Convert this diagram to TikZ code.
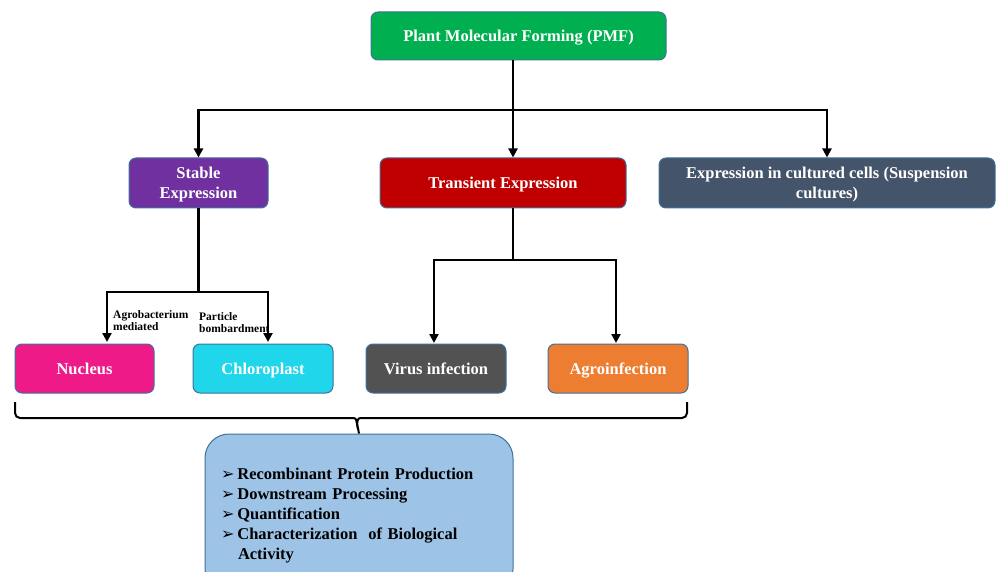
\documentclass[tikz,border=0pt]{standalone}
\usepackage{fontspec}
\setmainfont{Liberation Serif}
\newfontfamily\dejavu{DejaVu Sans}
\usetikzlibrary{arrows.meta}
\definecolor{bord}{HTML}{41719C}
\definecolor{cpmf}{HTML}{00B050}
\definecolor{cstable}{HTML}{7030A0}
\definecolor{ctrans}{HTML}{C00000}
\definecolor{ccult}{HTML}{44546A}
\definecolor{cnuc}{HTML}{EE1A88}
\definecolor{cchl}{HTML}{20D6EA}
\definecolor{cvir}{HTML}{525252}
\definecolor{cagro}{HTML}{ED7D31}
\definecolor{cbot}{HTML}{9DC3E6}
\newcommand{\blt}{{\dejavu\fontsize{16}{20}\selectfont ➢}\hspace{3pt}}
\tikzset{
  box/.style={draw=bord, line width=1pt, rounded corners=7pt, text=white,
    font=\bfseries\fontsize{16.5}{19.5}\selectfont, align=center, inner sep=2pt,
    text height=11pt, text depth=0pt},
  twoline/.style={text height=30.5pt, text depth=0pt},
  conn/.style={line width=2.4pt, black},
  arr/.style={conn, -{Triangle[length=9pt,width=9pt]}},
  lab/.style={font=\bfseries\fontsize{11.5}{12.5}\selectfont, align=left, inner sep=0pt, anchor=north west},
}
\begin{document}
\begin{tikzpicture}[x=1pt,y=-1pt]
\useasboundingbox (0,0) rectangle (996,572);
\node[box, fill=cpmf, minimum width=295, minimum height=48] (pmf) at (518.5,36) {Plant Molecular Forming (PMF)};
\node[box, twoline, fill=cstable, minimum width=139, minimum height=50] (stable) at (198.5,183) {Stable\\Expression};
\node[box, fill=ctrans, minimum width=246, minimum height=50] (trans) at (503,183) {Transient Expression};
\node[box, twoline, fill=ccult, minimum width=336, minimum height=50] (cult) at (827,183) {Expression in cultured cells (Suspension\\cultures)};
\node[box, fill=cnuc, minimum width=139, minimum height=49] (nuc) at (84.5,368.5) {Nucleus};
\node[box, fill=cchl, minimum width=140, minimum height=49] (chl) at (263,368.5) {Chloroplast};
\node[box, fill=cvir, minimum width=140, minimum height=49] (vir) at (436,368.5) {Virus infection};
\node[box, fill=cagro, minimum width=140, minimum height=49] (agro) at (618,368.5) {Agroinfection};
\begin{scope}
\clip (0,0) rectangle (996,572);
\node[draw=bord, line width=1pt, fill=cbot, rounded corners=24pt, minimum width=308, minimum height=159,
  text width=276pt, align=left, font=\bfseries\fontsize{16.5}{20}\selectfont, inner sep=0pt,
  text height=11pt, text depth=80pt] (bot) at (359,513.5)
  {\blt Recombinant Protein Production\\
   \blt Downstream Processing\\
   \blt Quantification\\
   \blt Characterization\ \ of Biological\\
   \hspace{17pt}Activity};
\end{scope}
% connectors from PMF
\coordinate (j1) at (513,110);
\draw[conn] (pmf.south -| j1) -- (j1);
\draw[arr] (j1) -| (stable.north);
\draw[arr] (j1) -- (j1 |- trans.north);
\draw[arr] (j1) -| (cult.north);
% stable
\coordinate (j2) at (stable.south |- 0,292);
\draw[conn] (stable.south) -- (j2);
\draw[arr] (j2) -| (107,342);
\draw[arr] (j2) -| (268,342);
\node[lab] (la) at (113,310) {Agrobacterium\\mediated};
\node[lab] (lb) at (199,312) {Particle\\bombardment};
% transient
\coordinate (j3) at (513,260);
\draw[conn] (trans.south -| j3) -- (j3);
\draw[arr] (j3) -| (434,343);
\draw[arr] (j3) -| (616,343);
% brace
\coordinate (bl) at (15,402);
\coordinate (br) at (687,402);
\draw[line width=2pt, rounded corners=5pt] (bl) |- (351,418);
\draw[line width=2pt, rounded corners=5pt] (br) |- (363,418);
\draw[line width=2pt] (351,418) .. controls (356,418) .. (357,424) .. controls (358,418) .. (363,418);
\draw[line width=2pt] (357,423) -- (bot.north);
\end{tikzpicture}
\end{document}
